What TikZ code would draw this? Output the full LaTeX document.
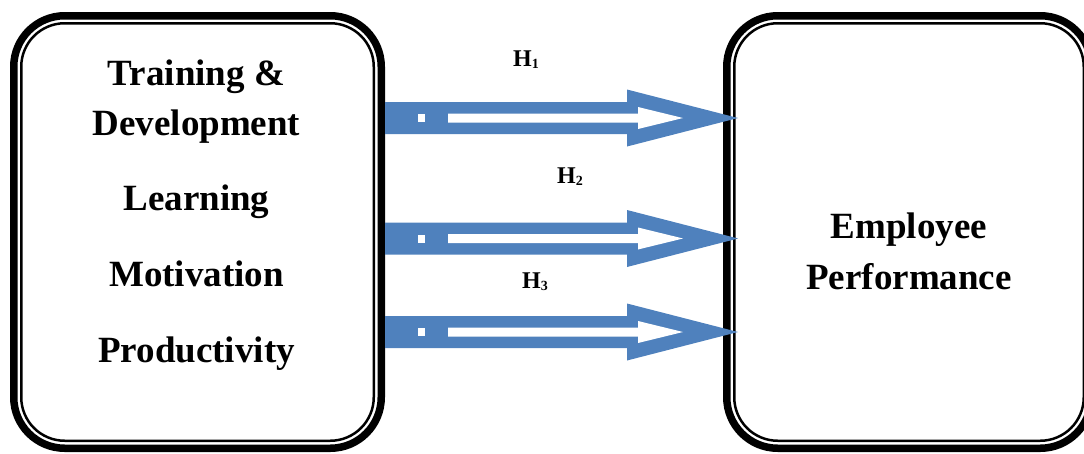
\documentclass[tikz,border=0pt]{standalone}
\usepackage{fontspec}
\setmainfont{Liberation Serif}
\usetikzlibrary{calc}
\definecolor{arrowblue}{HTML}{4F81BD}
\tikzset{
  box/.style={draw=black, line width=7.5pt, rounded corners=51pt, inner sep=0pt, outer sep=0pt},
  innerline/.style={draw=black, line width=2.5pt, rounded corners=43.5pt},
  bigtext/.style={font=\fontsize{37}{38}\selectfont\bfseries, anchor=base, inner sep=0pt},
  hlabel/.style={font=\fontsize{24}{24}\selectfont\bfseries, anchor=base west, inner sep=0pt},
  pics/bigarrow/.style={code={
    \fill[arrowblue] (0,-16) -- (242,-16) -- (242,-28.5) -- (353,0) -- (242,28.5) -- (242,16) -- (0,16) -- cycle;
    \fill[white] (63,-4.5) -- (253,-4.5) -- (253,-11) -- (298,0) -- (253,11) -- (253,4.5) -- (63,4.5) -- cycle;
    \fill[white] (33,-4) rectangle (40,4);
  }}
}
\newcommand{\hsub}[1]{{\fontsize{14}{14}\selectfont\raisebox{-2.5pt}{#1}}}
\begin{document}
\begin{tikzpicture}[x=1pt,y=-1pt]
\useasboundingbox (0,0) rectangle (1084,453);
\begin{scope}
\clip (0,0) rectangle (1084,453);
% boxes
\node[box, minimum width=367.5pt, minimum height=432.5pt] (left) at (197.5,232) {};
\draw[innerline] ($(left.north west)+(7.5,7.5)$) rectangle ($(left.south east)+(-7.5,-7.5)$);
\node[box, minimum width=364.5pt, minimum height=432.5pt] (right) at (909,232) {};
\draw[innerline] ($(right.north west)+(7.5,7.5)$) rectangle ($(right.south east)+(-7.5,-7.5)$);
\end{scope}
% texts
\node[bigtext] (t1) at (196.5,85) {Training \&};
\node[bigtext] (t2) at (196.5,135) {Development};
\node[bigtext] (t3) at (196.5,210) {Learning};
\node[bigtext] (t4) at (196.5,286.5) {Motivation};
\node[bigtext] (t5) at (196.5,362.5) {Productivity};
\node[bigtext] (e1) at (909,238) {Employee};
\node[bigtext] (e2) at (909,289.5) {Performance};
% arrows
\coordinate (a1) at (left.east |- 0,118);
\coordinate (a2) at (left.east |- 0,238.5);
\coordinate (a3) at (left.east |- 0,332);
\pic at ($(a1)+(3.75,0)$) {bigarrow};
\pic at ($(a2)+(3.75,0)$) {bigarrow};
\pic at ($(a3)+(3.75,0)$) {bigarrow};
% labels
\node[hlabel] (h1) at (513,66) {H\hsub{1}};
\node[hlabel] (h2) at (557,183) {H\hsub{2}};
\node[hlabel] (h3) at (522,288) {H\hsub{3}};
\end{tikzpicture}
\end{document}
